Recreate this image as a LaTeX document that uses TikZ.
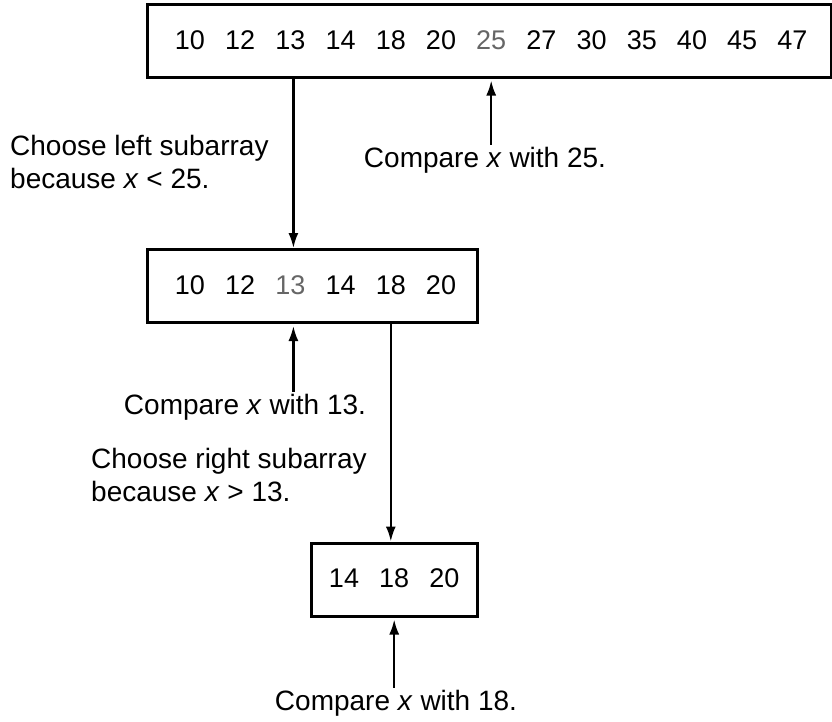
\documentclass[tikz,border=0pt]{standalone}
\usepackage{fontspec}
\setmainfont{Liberation Sans}
\usetikzlibrary{arrows.meta, positioning}
\usepackage{xcolor}
\colorlet{picked}{black!60}
\tikzset{%
	arraybox/.style={
		draw,
		line width=3pt,
		minimum height=73pt,
		inner sep=0pt
	},
	entry/.style={
		anchor=base,
		inner sep=0pt,
		font=\fontsize{27}{32}\selectfont
	},
	note/.style={
		align=left,
		inner sep=2pt,
		font=\fontsize{28}{33}\selectfont
	},
	arr/.style={
		line width=2.2pt,
		-{Latex[length=15pt,width=10pt]}
	},
}

\begin{document}
\begin{tikzpicture}[x=1pt, y=-1pt]
			\useasboundingbox (0,0) rectangle (832,721);
			
			% Boxes
			\node[arraybox, minimum width=684pt] (top) at (489,40.5) {};
			\node[arraybox, minimum width=330pt] (mid) at (312,286) {};
			\node[arraybox, minimum width=166pt] (bot) at (394,579.5) {};
			
			% Entries of the arrays
			\foreach \v/\c [count=\i] in {10/black,12/black,13/black,14/black,18/black,20/black,25/picked,27/black,30/black,35/black,40/black,45/black,47/black}
			\node[entry, text=\c] (t\v) at ({190+(\i-1)*50.2},49) {\v};
			\foreach \v/\c [count=\i] in {10/black,12/black,13/picked,14/black,18/black,20/black}
			\node[entry, text=\c] (m\v) at ({190+(\i-1)*50.2},294) {\v};
			\foreach \v [count=\i] in {14,18,20}
			\node[entry] (b\v) at ({344+(\i-1)*50.2},587) {\v};
			
			% Notes
			\node[note, anchor=west] (left) at (8,162) {Choose left subarray\\because \textit{x} < 25.};
			\node[note] (cmp25) at (485,160) {Compare \textit{x} with 25.};
			\node[note] (cmp13) at (245,407) {Compare \textit{x} with 13.};
			\node[note, anchor=west] (right) at (89,475) {Choose right subarray\\because \textit{x} > 13.};
			\node[note] (cmp18) at (396,703) {Compare \textit{x} with 18.};
			
			% Arrows
			\draw[arr] (top.south -| t13) ++(3,0) coordinate (d1) -- (d1 |- mid.north);
			\draw[arr, shorten >=2pt] (cmp25.north -| t25) -- (top.south -| t25);
			\draw[arr, shorten >=2pt] ([xshift=3pt]cmp13.north -| m13) -- ([xshift=3pt]mid.south -| m13);
			\draw[arr] (mid.south -| m18) -- (bot.north -| m18);
			\draw[arr, shorten >=2pt] (cmp18.north -| b18) -- (bot.south -| b18);
			
		\end{tikzpicture}
\end{document}
